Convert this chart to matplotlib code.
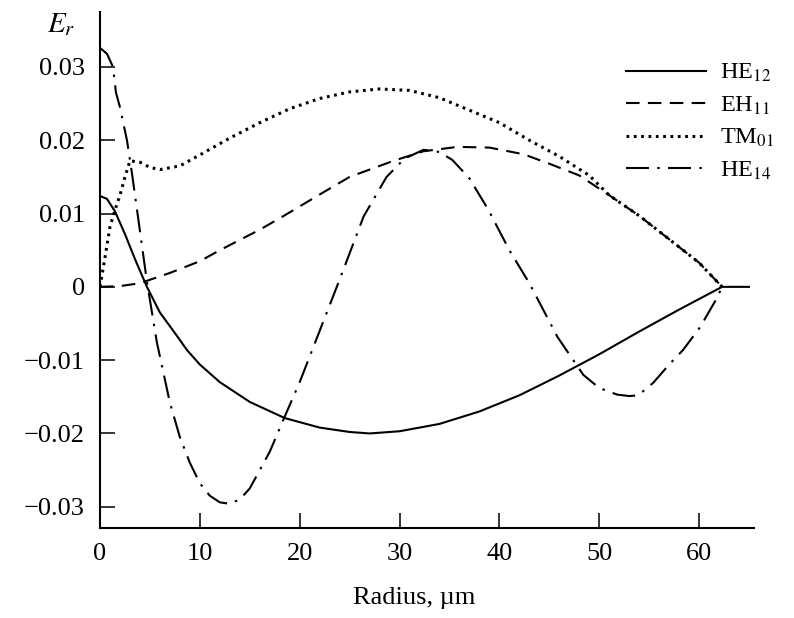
import numpy as np
import matplotlib
matplotlib.use("Agg")
import matplotlib.pyplot as plt

plt.rcParams['font.family'] = ['Liberation Serif', 'DejaVu Serif']
plt.rcParams['mathtext.fontset'] = 'stix'

# HE12 (solid)
he12_x = [0, 0.7, 1.5, 2.5, 3.5, 4.7, 6, 7.5, 8.7, 10, 12, 15, 18.5, 22, 25, 27, 30,
          34, 38, 42, 46, 50, 54, 58, 62.3, 65]
he12_y = [0.0124, 0.0120, 0.0103, 0.0072, 0.0038, 0.0, -0.0035, -0.0063, -0.0086,
          -0.0106, -0.0130, -0.0157, -0.0179, -0.0192, -0.0198, -0.0200, -0.0197,
          -0.0187, -0.0170, -0.0148, -0.0121, -0.0092, -0.0061, -0.0031, 0.0, 0.0]

# EH11 (dashed)
eh11_x = [0, 2, 4, 7, 10, 12, 16, 18.3, 22, 25, 29.4, 32.4, 35.8, 39, 42.4, 45, 48,
          51, 54, 57, 60, 62.3]
eh11_y = [0, 0.0001, 0.0005, 0.0019, 0.0035, 0.0050, 0.0078, 0.0096, 0.0126, 0.0150,
          0.0172, 0.0185, 0.0191, 0.0190, 0.0181, 0.0168, 0.0152, 0.0125, 0.0097,
          0.0065, 0.0033, 0.0]

# TM01 (dotted)
tm01_x = [0, 0.5, 1, 1.5, 2, 2.5, 3, 4, 5, 6, 8, 10, 13, 16, 19, 22, 25, 28, 31, 34,
          37, 40, 43, 46, 49, 51, 54, 57, 60, 62.3]
tm01_y = [0, 0.0040, 0.0082, 0.0105, 0.0125, 0.0150, 0.0172, 0.0170, 0.0163, 0.0160,
          0.0165, 0.0180, 0.0203, 0.0224, 0.0243, 0.0257, 0.0266, 0.0270, 0.0268,
          0.0258, 0.0241, 0.0224, 0.0200, 0.0178, 0.0152, 0.0125, 0.0097, 0.0065,
          0.0033, 0.0]

# HE14 (dash-dot)
he14_x = [0, 0.7, 1.3, 1.6, 2.0, 2.7, 3.2, 3.8, 4.7, 5.7, 7, 8, 9, 10, 11, 12, 13, 14,
          15, 17, 18.5, 20, 22, 24, 26.4, 28.7, 30.5, 32.4, 34, 35.3, 37, 38.9, 41, 43,
          45.8, 48.4, 50, 51.8, 53, 53.9, 55.4, 57, 58.4, 60.1, 61.8, 62.3]
he14_y = [0.0326, 0.0318, 0.0300, 0.0265, 0.0245, 0.0200, 0.0155, 0.0096, 0.0007,
          -0.0076, -0.0158, -0.0205, -0.0240, -0.0268, -0.0285, -0.0294, -0.0296,
          -0.0290, -0.0275, -0.0225, -0.0177, -0.0130, -0.0060, 0.0010, 0.0096,
          0.0150, 0.0175, 0.0187, 0.0184, 0.0173, 0.0148, 0.0105, 0.0050, 0.0005,
          -0.0068, -0.0120, -0.0138, -0.0147, -0.0149, -0.0148, -0.0131, -0.0106,
          -0.0086, -0.0055, -0.0015, 0.0]

xticks = [0, 10, 20, 30, 40, 50, 60]
yticks = [-0.03, -0.02, -0.01, 0, 0.01, 0.02, 0.03]
ytick_labels = ['\u22120.03', '\u22120.02', '\u22120.01', '0', '0.01', '0.02', '0.03']

fig = plt.figure(figsize=(7.94, 6.18), dpi=100)
ax = fig.add_axes([100/794, 1 - 528/618, 654/794, 516/618])

lw = 1.5
ax.plot(he12_x, he12_y, color='black', lw=lw, label='HE$_{12}$')
ax.plot(eh11_x, eh11_y, color='black', lw=lw, dashes=(6.5, 4), label='EH$_{11}$')
ax.plot(tm01_x, tm01_y, color='black', lw=2.2, dashes=(0.9, 1.5), label='TM$_{01}$')
ax.plot(he14_x, he14_y, color='black', lw=lw, dashes=(11, 4, 1.2, 4), label='HE$_{14}$')

ax.set_xlim(0, 65.5)
ax.set_ylim(-0.0329, 0.0375)

for s in ['top', 'right']:
    ax.spines[s].set_visible(False)
for s in ['left', 'bottom']:
    ax.spines[s].set_linewidth(1.5)

ax.set_xticks(xticks)
ax.set_yticks(yticks)
ax.set_yticklabels(ytick_labels)
ax.tick_params(direction='in', length=11, width=1.1, labelsize=19, pad=11)

ax.set_xlabel('Radius, \u00b5m', fontsize=19)
ax.xaxis.set_label_coords(0.48, -0.115)
ax.text(-0.06, 0.975, '$E_r$', transform=ax.transAxes, fontsize=21,
        ha='center', va='center')

ax.legend(loc='upper left', bbox_to_anchor=(626/794, 1 - 62/618),
          bbox_transform=fig.transFigure, frameon=False, fontsize=17.5,
          handlelength=3.3, handletextpad=0.55, labelspacing=0.42,
          borderpad=0, borderaxespad=0)

fig.savefig('out.png', dpi=100)
